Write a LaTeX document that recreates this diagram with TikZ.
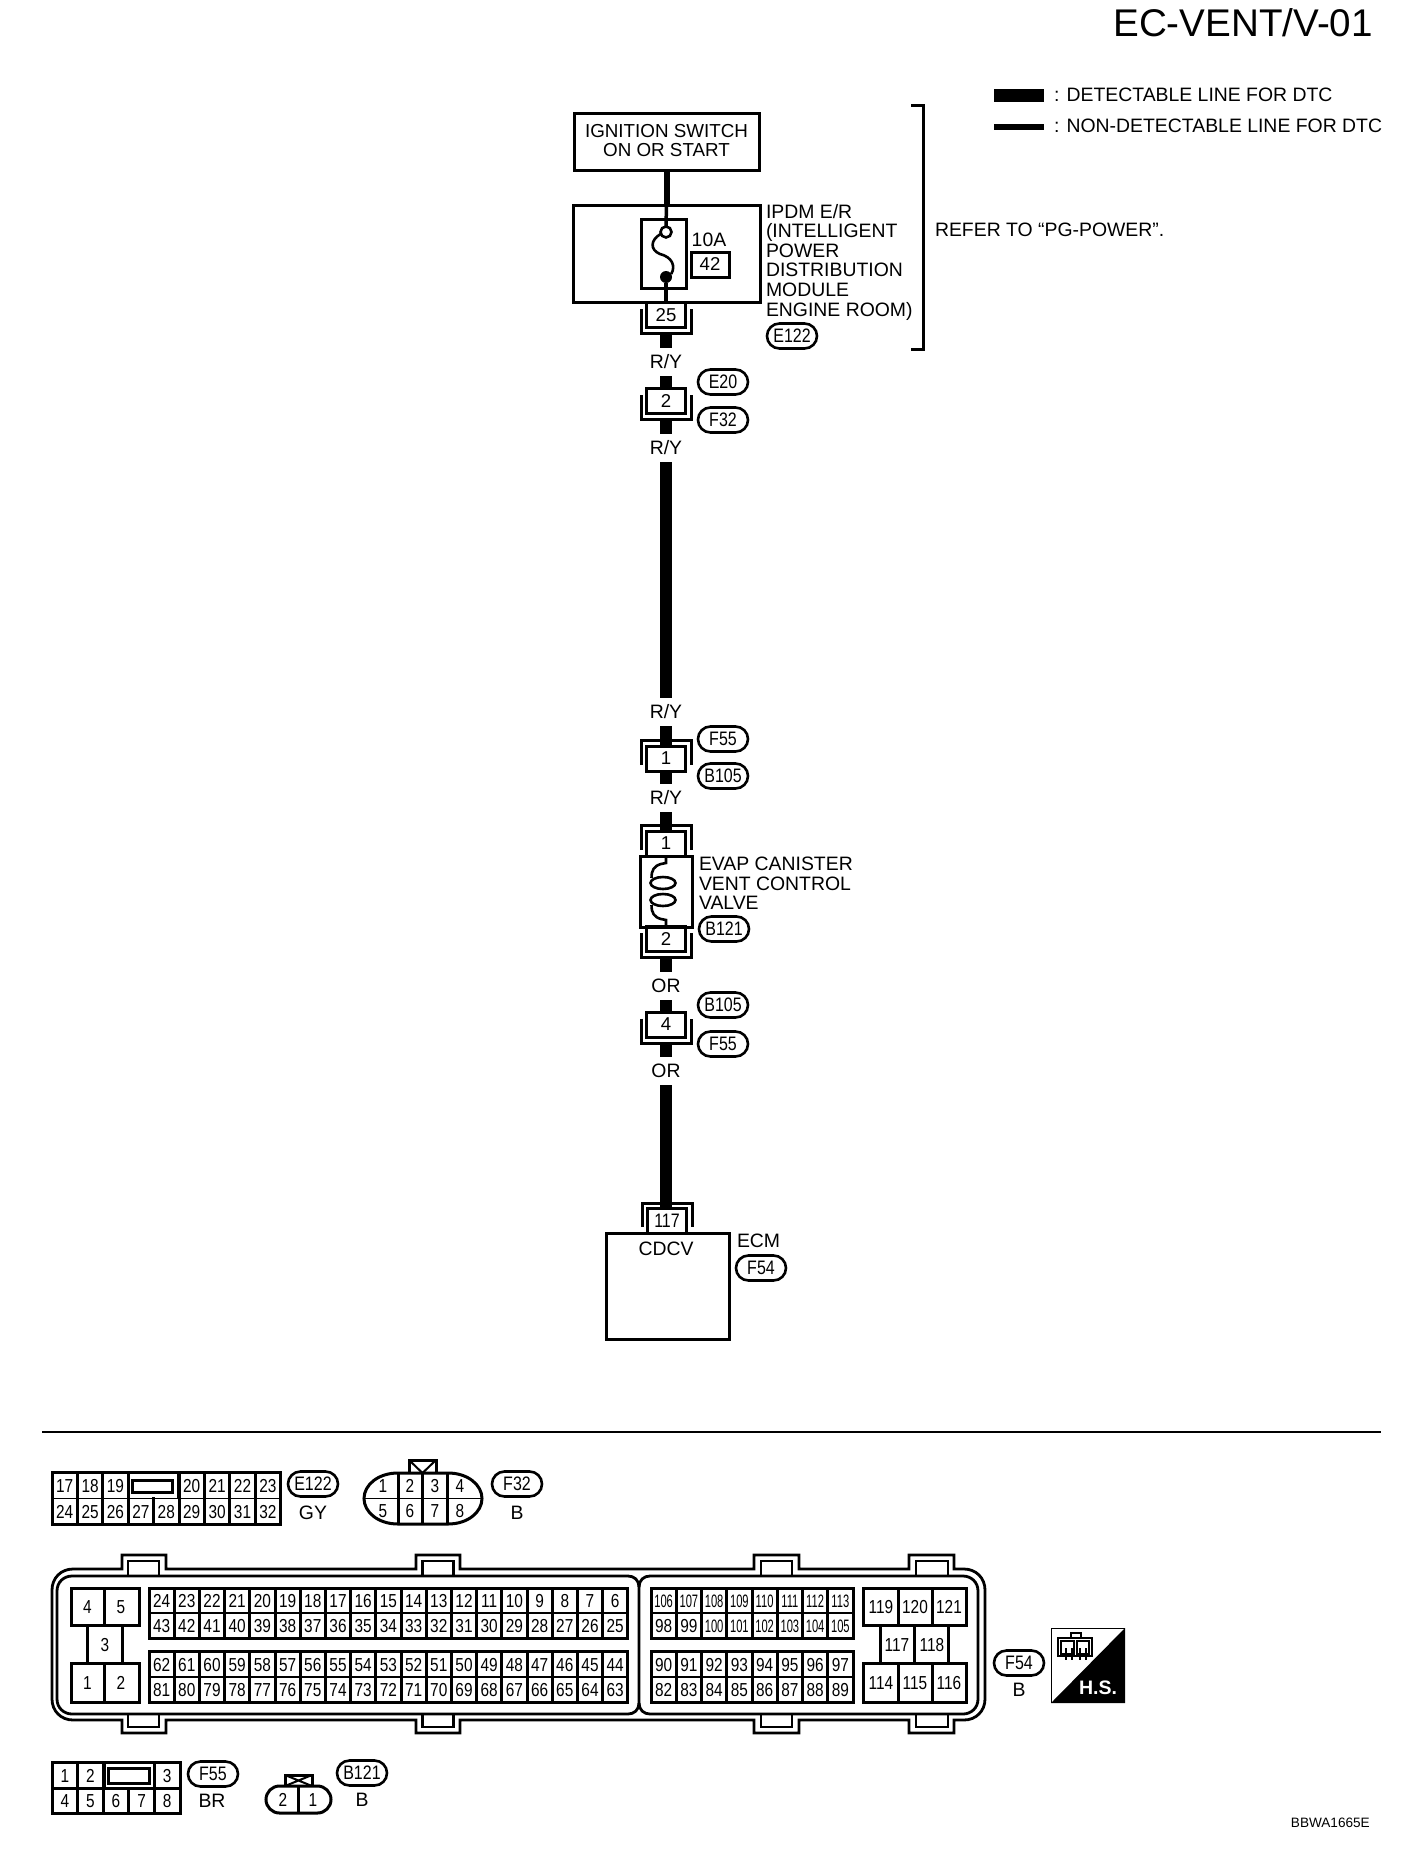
\documentclass[tikz,border=0pt]{standalone}
\usepackage{fontspec}
\setmainfont{Liberation Sans}
\newfontfamily\cellfont[FakeStretch=0.82]{Liberation Sans}
\newfontfamily\slimfont[FakeStretch=0.62]{Liberation Sans}
\usetikzlibrary{shapes.misc}
\tikzset{
  labtext/.style={inner sep=0pt,outer sep=0pt,font=\fontsize{19.4}{19.6}\selectfont},
  wirelab/.style={labtext,minimum height=28pt},
  boxline/.style={draw,line width=3pt},
  pinbox/.style={boxline,fill=white,inner sep=0pt,outer sep=0pt,minimum width=39pt,minimum height=25pt,font=\fontsize{18.6}{19}\selectfont},
  plugline/.style={line width=3pt,line cap=butt,line join=miter},
  detwire/.style={line width=12.5pt},
  nonwire/.style={line width=6pt},
  fusewire/.style={line width=3.5pt},
  pill/.style={rounded rectangle,draw,line width=2.6pt,inner sep=0pt,outer sep=0pt,minimum width=50pt,minimum height=25pt,font=\cellfont\fontsize{19.5}{19}\selectfont},
  cell/.style={inner sep=0pt,outer sep=0pt,font=\cellfont\fontsize{18.8}{19}\selectfont},
  slimcell/.style={inner sep=0pt,outer sep=0pt,font=\slimfont\fontsize{18}{19}\selectfont},
  gridline/.style={line width=3pt},
  midline/.style={line width=1.6pt},
  ecmline/.style={line width=2.8pt,line join=miter}
}
% x y w(cell) n: block of two rows
\newcommand{\cellblock}[6]{
  \draw[gridline] (#1,#2) rectangle ({#1+#3*#4},#5);
  \draw[midline] (#1,#6) -- ({#1+#3*#4},#6);
  \foreach \d in {1,...,\numexpr#4-1\relax}
    \draw[gridline] ({#1+#3*\d},#2) -- ({#1+#3*\d},#5);
}
\begin{document}
\begin{tikzpicture}[x=1pt,y=-1pt]
\useasboundingbox (0,0) rectangle (1408,1852);

%title and legend
\node[inner sep=0pt,anchor=east,font=\fontsize{38.6}{39}\selectfont] (title) at (1373,23) {EC-VENT/V-01};
\coordinate (legaw) at (994,95.5);
\coordinate (legae) at (1044,95.5);
\coordinate (legbw) at (994,126.5);
\coordinate (legbe) at (1044,126.5);
\draw[detwire] (legaw) -- (legae);
\draw[nonwire] (legbw) -- (legbe);
\node[labtext,anchor=west] (lega) at (1054,95) {: DETECTABLE LINE FOR DTC};
\node[labtext,anchor=west] (legb) at (1054,126) {: NON-DETECTABLE LINE FOR DTC};

%power supply
\node[boxline,outer sep=0pt,minimum width=185pt,minimum height=57pt] (ign) at (666.5,141.5) {};
\node[inner sep=0pt,align=center,font=\fontsize{18.8}{19.4}\selectfont] (igntxt) at (666.5,140.3) {IGNITION SWITCH\\ON OR START};
\node[boxline,minimum width=187pt,minimum height=97pt,outer sep=0pt] (ipdm) at (666.5,253.5) {};
\node[boxline,minimum width=45pt,minimum height=69pt,outer sep=0pt] (fuse) at (663.5,253.5) {};
\node[circle,draw,line width=2.6pt,fill=white,inner sep=0pt,outer sep=0pt,minimum size=11pt] (fuseo) at (666,232) {};
\node[circle,fill,inner sep=0pt,outer sep=0pt,minimum size=12pt] (fusec) at (666,277) {};
\draw[line width=2.6pt] (fuseo.200) .. controls (650,240) and (650,250) .. (660,254) .. controls (672,257) and (676,266) .. (fusec.30);
\node[labtext] (amps) at (709,240) {10A};
\node[boxline,inner sep=0pt,outer sep=0pt,minimum width=38pt,minimum height=25pt,font=\fontsize{18.6}{19}\selectfont] (fuseno) at (710,264.5) {42};
\node[labtext,align=left,anchor=north west] (ipdmtxt) at (766,204) {IPDM E/R\\(INTELLIGENT\\POWER\\DISTRIBUTION\\MODULE\\ENGINE ROOM)};
\draw[nonwire] (ign.south) -- (ign.south |- ipdm.north);
\draw[fusewire] (ign.south |- ipdm.north) -- (fuseo.north);
\draw[fusewire] (fusec.south) -- (fusec.south |- ipdm.south);
\coordinate (refa) at (911,105);
\coordinate (refb) at (923,105);
\coordinate (refc) at (923,349);
\coordinate (refd) at (911,349);
\draw[plugline] (refa) -- (refb) -- (refc) -- (refd);
\node[labtext,anchor=west] (reftxt) at (935,230) {REFER TO “PG-POWER”.};

%connectors on the line
\foreach \nm/\yy/\txt in {pa/315/25,pb/401/2,pe/939/2,pf/1024.5/4}
{
\node[pinbox] (\nm) at (666,\yy) {\txt};
\draw[plugline] ([shift={(-25,-6)}]\nm.center) -- ++(0,24.5) -- ++(50,0) -- ++(0,-24.5);
\coordinate (\nm w) at ([shift={(0,18.5)}]\nm.center);
}
\foreach \nm/\yy/\txt in {pc/758.5/1,pd/843.5/1}
{
\node[pinbox] (\nm) at (666,\yy) {\txt};
\draw[plugline] ([shift={(-25,6)}]\nm.center) -- ++(0,-24.5) -- ++(50,0) -- ++(0,24.5);
}
\node[pinbox,font=\cellfont\fontsize{19.5}{19}\selectfont] (pg) at (667,1220.5) {117};
\draw[plugline] ([shift={(-25,6)}]pg.center) -- ++(0,-23.5) -- ++(50,0) -- ++(0,23.5);

\foreach \nm/\yy/\txt in {rya/362/R\slash Y,ryb/448/R\slash Y,ryc/712/R\slash Y,ryd/798/R\slash Y,ora/986/OR,orb/1071/OR}
{
\node[wirelab] (\nm) at (666,\yy) {\txt};
}
\draw[detwire] (paw) -- (rya.north);
\draw[detwire] (rya.south) -- (pb.north);
\draw[detwire] (pbw) -- (ryb.north);
\draw[detwire] (ryb.south) -- (ryc.north);
\draw[detwire] (ryc.south) -- (pc.north);
\draw[detwire] (pc.south) -- (ryd.north);
\draw[detwire] (ryd.south) -- (pd.north);
\draw[detwire] (pew) -- (ora.north);
\draw[detwire] (ora.south) -- (pf.north);
\draw[detwire] (pfw) -- (orb.north);
\draw[detwire] (orb.south) -- (orb.south |- pg.north);

%valve
\node[boxline,minimum width=52pt,minimum height=71pt,outer sep=0pt] (valve) at (666,891.5) {};
\draw[line width=2.6pt] (valve.north) -- ++(0,7) -- ++(-5,1) .. controls (654,866) and (651.5,870) .. (651.5,878);
\draw[line width=2.6pt] (663,883) ellipse [x radius=12.5,y radius=6];
\draw[line width=2.6pt] (663,900) ellipse [x radius=12.5,y radius=6];
\draw[line width=2.6pt] (valve.south) -- ++(0,-7) -- ++(-5,-1) .. controls (654,917) and (651.5,913) .. (651.5,905);
\node[labtext,align=left,anchor=north west] (valvetxt) at (699,857) {EVAP CANISTER\\VENT CONTROL\\VALVE};

%ecm
\node[boxline,minimum width=123pt,minimum height=106pt,outer sep=0pt] (ecm) at (667.5,1286) {};
\node[labtext] (cdcv) at (666,1249) {CDCV};
\node[labtext,anchor=west] (ecmtxt) at (737,1241) {ECM};

%harness marks
\foreach \nm/\xx/\yy/\txt in {ma/792/336/E122,mb/723/382/E20,mc/723/420/F32,md/723/739/F55,me/723/776/B105,mf/724/929/B121,mg/723/1005/B105,mh/723/1044/F55,mi/761/1268/F54,mj/313/1484/E122,mk/517/1484/F32,ml/1019/1663/F54,mm/213/1774/F55,mn/362/1773/B121}
{
\node[pill] (\nm) at (\xx,\yy) {\txt};
}

%divider
\coordinate (diva) at (42,1432);
\coordinate (divb) at (1381,1432);
\draw[line width=1.6pt] (diva) -- (divb);

%connector e122
\cellblock{52}{1472}{25.4}{9}{1524}{1498.5}
\fill[white] (125,1473.5) rectangle (176,1497);
\draw[gridline] (128,1472) -- (128,1498) (178,1472) -- (178,1498);
\draw[gridline] (153.5,1498.5) -- (153.5,1524);
\draw[gridline] (132.6,1480) rectangle (172,1492);
\foreach \n/\i in {17/0,18/1,19/2,20/5,21/6,22/7,23/8}
{
\node[cell] (ea\n) at ({52+25.4*(\i+.5)},1486) {\n};
}
\foreach \n [count=\i from 0] in {24,...,32}
{
\node[cell] (eb\n) at ({52+25.4*(\i+.5)},1512) {\n};
}
\node[labtext] (gy) at (313,1513) {GY};

%connector f32
\draw[gridline] (398,1473) .. controls (378,1473) and (364,1485) .. (364,1498.5) .. controls (364,1512) and (378,1524) .. (398,1524) -- (448,1524) .. controls (468,1524) and (482,1512) .. (482,1498.5) .. controls (482,1485) and (468,1473) .. (448,1473) -- cycle;
\draw[midline] (364,1498.5) -- (482,1498.5);
\foreach \xx in {398,422.6,447.7}
{
\draw[gridline] (\xx,1473) -- (\xx,1524);
}
\draw[gridline] (409,1473) -- (409,1460) -- (436,1460) -- (436,1473);
\draw[line width=2pt] (409,1460) -- (422.5,1473) -- (436,1460);
\foreach \n/\xx/\yy in {1/383/1486,2/410/1486,3/435/1486,4/460/1486,5/383/1511,6/410/1511,7/435/1511,8/460/1511}
{
\node[cell] (fa\n) at (\xx,\yy) {\n};
}
\node[labtext] (fcol) at (517,1513) {B};

%ecm connector outline
\draw[ecmline] (52,1590) .. controls (52,1578) and (61,1569) .. (73,1569) -- (122,1569) -- (122,1555) -- (166,1555) -- (166,1569) -- (416,1569) -- (416,1555) -- (460,1555) -- (460,1569) -- (754,1569) -- (754,1555) -- (799,1555) -- (799,1569) -- (909,1569) -- (909,1555) -- (954,1555) -- (954,1569) -- (964,1569) .. controls (976,1569) and (985,1578) .. (985,1590) -- (985,1699) .. controls (985,1711) and (976,1720) .. (964,1720) -- (954,1720) -- (954,1733) -- (909,1733) -- (909,1720) -- (799,1720) -- (799,1733) -- (754,1733) -- (754,1720) -- (460,1720) -- (460,1733) -- (416,1733) -- (416,1720) -- (166,1720) -- (166,1733) -- (122,1733) -- (122,1720) -- (73,1720) .. controls (61,1720) and (52,1711) .. (52,1699) -- cycle;
\draw[ecmline] (57,1591) .. controls (57,1582) and (64,1576) .. (72,1576) -- (628,1576) .. controls (634,1576) and (639,1580) .. (639,1587) -- (639,1703) .. controls (639,1710) and (634,1714) .. (628,1714) -- (72,1714) .. controls (64,1714) and (57,1708) .. (57,1699) -- cycle;
\draw[ecmline] (639,1587) .. controls (639,1580) and (644,1576) .. (650,1576) -- (963,1576) .. controls (971,1576) and (978,1582) .. (978,1591) -- (978,1699) .. controls (978,1708) and (971,1714) .. (963,1714) -- (650,1714) .. controls (644,1714) and (639,1710) .. (639,1703);
\foreach \xa/\xb in {128/159,422.6/453.6,761/792,916/948}
{
\draw[ecmline] (\xa,1576) -- (\xa,1561) -- (\xb,1561) -- (\xb,1576);
\draw[ecmline] (\xa,1714) -- (\xa,1727) -- (\xb,1727) -- (\xb,1714);
}

%ecm terminals, left
\draw[gridline] (71,1588) rectangle (139,1625);
\draw[gridline] (104,1588) -- (104,1625);
\draw[gridline] (87,1625) rectangle (122,1663);
\draw[gridline] (71,1663) rectangle (139,1702);
\draw[gridline] (104,1663) -- (104,1702);
\foreach \n/\xx/\yy in {4/87.5/1607,5/121/1607,3/105/1645,1/87.5/1683,2/121/1683}
{
\node[cell] (ta\n) at (\xx,\yy) {\n};
}
\cellblock{149}{1588}{25.2}{19}{1638}{1613}
\cellblock{149}{1651}{25.2}{19}{1702}{1677}
\foreach \n [count=\i from 0] in {24,23,...,6}
{
\node[cell] (tb\n) at ({149+25.2*(\i+.5)},1601) {\n};
}
\foreach \n [count=\i from 0] in {43,42,...,25}
{
\node[cell] (tb\n) at ({149+25.2*(\i+.5)},1626) {\n};
}
\foreach \n [count=\i from 0] in {62,61,...,44}
{
\node[cell] (tb\n) at ({149+25.2*(\i+.5)},1665) {\n};
}
\foreach \n [count=\i from 0] in {81,80,...,63}
{
\node[cell] (tb\n) at ({149+25.2*(\i+.5)},1690) {\n};
}

%ecm terminals, right
\cellblock{651}{1588}{25.25}{8}{1638}{1613}
\cellblock{651}{1651}{25.25}{8}{1702}{1677}
\foreach \n [count=\i from 0] in {106,...,113}
{
\node[slimcell] (tc\n) at ({651+25.25*(\i+.5)},1601) {\n};
}
\foreach \n/\i in {98/0,99/1}
{
\node[cell] (tc\n) at ({651+25.25*(\i+.5)},1626) {\n};
}
\foreach \n/\i in {100/2,101/3,102/4,103/5,104/6,105/7}
{
\node[slimcell] (tc\n) at ({651+25.25*(\i+.5)},1626) {\n};
}
\foreach \n [count=\i from 0] in {90,...,97}
{
\node[cell] (tc\n) at ({651+25.25*(\i+.5)},1665) {\n};
}
\foreach \n [count=\i from 0] in {82,...,89}
{
\node[cell] (tc\n) at ({651+25.25*(\i+.5)},1690) {\n};
}
\draw[gridline] (863,1588) rectangle (966,1625);
\draw[gridline] (898,1588) -- (898,1625) (932,1588) -- (932,1625);
\draw[gridline] (880,1625) rectangle (948,1663);
\draw[gridline] (914,1625) -- (914,1663);
\draw[gridline] (863,1663) rectangle (966,1702);
\draw[gridline] (898,1663) -- (898,1702) (932,1663) -- (932,1702);
\foreach \n/\xx/\yy in {119/881/1607,120/915/1607,121/949/1607,117/897/1645,118/932/1645,114/881/1683,115/915/1683,116/949/1683}
{
\node[cell] (td\n) at (\xx,\yy) {\n};
}
\node[labtext] (ecol) at (1019,1690) {B};

%harness symbol
\draw[line width=1pt,fill=white] (1051.5,1628.5) rectangle (1124.5,1702.5);
\fill (1125,1628) -- (1125,1703) -- (1051,1703) -- cycle;
\draw[line width=1.8pt] (1058,1638) rectangle (1092,1656);
\draw[line width=1.4pt] (1061,1641) rectangle (1074,1654) (1077,1641) rectangle (1089,1654);
\draw[line width=1.8pt] (1071,1638) -- (1071,1633) -- (1081,1633) -- (1081,1638);
\draw[line width=1.6pt] (1066,1648) -- (1066,1660) (1072,1648) -- (1072,1660) (1080,1648) -- (1080,1660) (1086,1648) -- (1086,1660);
\node[inner sep=0pt,text=white,font=\bfseries\fontsize{19.5}{20}\selectfont] (hs) at (1098,1688) {H.S.};

%connector f55
\cellblock{52}{1762}{25.6}{5}{1813}{1788}
\fill[white] (105.6,1763.5) rectangle (152.4,1786.5);
\draw[gridline] (104.2,1762) -- (104.2,1788) (154,1762) -- (154,1788);
\draw[gridline] (108,1768) rectangle (149,1783);
\draw[gridline] (52,1788) -- (180,1788);
\foreach \n/\i in {1/0,2/1,3/4}
{
\node[cell] (ga\n) at ({52+25.6*(\i+.5)},1776) {\n};
}
\foreach \n [count=\i from 0] in {4,...,8}
{
\node[cell] (ga\n) at ({52+25.6*(\i+.5)},1801) {\n};
}
\node[labtext] (gcol) at (212,1801) {BR};

%connector b121
\node[rounded rectangle,draw,line width=3pt,inner sep=0pt,outer sep=0pt,minimum width=65pt,minimum height=27pt] (hb) at (298.5,1799.5) {};
\draw[gridline] (hb.north) -- (hb.south);
\draw[gridline] (285,1786) -- (285,1775) -- (312,1775) -- (312,1786);
\draw[line width=2pt] (285,1775) -- (312,1786) (312,1775) -- (285,1786);
\node[cell] (hb2) at (283,1800) {2};
\node[cell] (hb1) at (313,1800) {1};
\node[labtext] (hcol) at (362,1800) {B};

\node[inner sep=0pt,anchor=east,font=\fontsize{13.6}{14}\selectfont] (code) at (1370,1823) {BBWA1665E};
\end{tikzpicture}
\end{document}
